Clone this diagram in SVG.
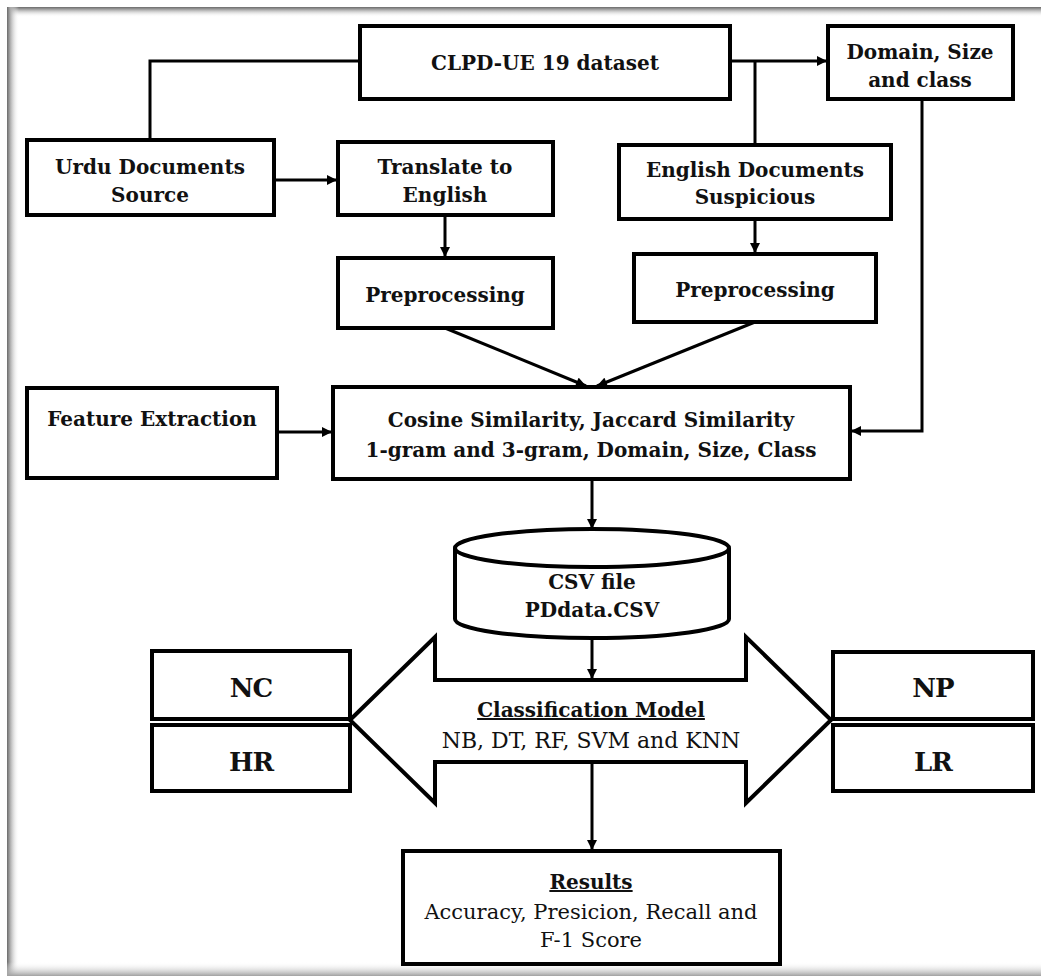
<svg xmlns="http://www.w3.org/2000/svg" width="1041" height="976" viewBox="0 0 1041 976">
<defs>
<style>
.box{fill:#fff;stroke:#000;stroke-width:4}
.ln{fill:none;stroke:#000;stroke-width:3}
.t{font-family:"DejaVu Serif","Liberation Serif",serif;font-weight:bold;font-size:20px;text-anchor:middle;fill:#111}
.r{font-family:"DejaVu Serif","Liberation Serif",serif;font-weight:normal;font-size:21px;text-anchor:middle;fill:#111}
.big{font-family:"DejaVu Serif","Liberation Serif",serif;font-weight:bold;font-size:26px;text-anchor:middle;fill:#111;letter-spacing:-1px}
</style>
<marker id="ah" viewBox="0 0 10 10" refX="10" refY="5" markerWidth="11" markerHeight="10" markerUnits="userSpaceOnUse" orient="auto">
<path d="M0,0 L10,5 L0,10 Z" fill="#000"/>
</marker>
<linearGradient id="gl" x1="0" y1="0" x2="1" y2="0">
<stop offset="0" stop-color="#6a6a6a"/><stop offset="0.25" stop-color="#a8a8a8"/><stop offset="1" stop-color="#fff" stop-opacity="0"/>
</linearGradient>
<linearGradient id="gt" x1="0" y1="0" x2="0" y2="1">
<stop offset="0" stop-color="#6a6a6a"/><stop offset="0.3" stop-color="#b0b0b0"/><stop offset="1" stop-color="#fff" stop-opacity="0"/>
</linearGradient>
<linearGradient id="gb" x1="0" y1="0" x2="0" y2="1">
<stop offset="0" stop-color="#fff" stop-opacity="0"/><stop offset="1" stop-color="#a0a0a0"/>
</linearGradient>
</defs>
<rect x="0" y="0" width="1041" height="976" fill="#fff"/>
<g id="frame">
<rect x="7" y="7" width="1034" height="10" fill="url(#gt)"/>
<rect x="7" y="7" width="12" height="969" fill="url(#gl)"/>
<rect x="7" y="962" width="1034" height="14" fill="url(#gb)"/>
</g>
<g id="connectors">
<polyline class="ln" points="360,61 150,61 150,140"/>
<line class="ln" x1="274" y1="180" x2="337" y2="180" marker-end="url(#ah)"/>
<line class="ln" x1="730" y1="61" x2="827" y2="61" marker-end="url(#ah)"/>
<line class="ln" x1="755" y1="61" x2="755" y2="145"/>
<line class="ln" x1="445" y1="215" x2="445" y2="257" marker-end="url(#ah)"/>
<line class="ln" x1="755" y1="219" x2="755" y2="253" marker-end="url(#ah)"/>
<polyline class="ln" points="922,99 922,431 851,431" marker-end="url(#ah)"/>
<line class="ln" x1="445" y1="328" x2="586" y2="386" marker-end="url(#ah)"/>
<line class="ln" x1="755" y1="322" x2="597" y2="386" marker-end="url(#ah)"/>
<line class="ln" x1="277" y1="432" x2="332" y2="432" marker-end="url(#ah)"/>
<line class="ln" x1="592" y1="479" x2="592" y2="529" marker-end="url(#ah)"/>
<line class="ln" x1="592" y1="638" x2="592" y2="679" marker-end="url(#ah)"/>
<line class="ln" x1="592" y1="762" x2="592" y2="850" marker-end="url(#ah)"/>
</g>
<g id="clpd">
<rect class="box" x="360" y="26" width="370" height="73"/>
<text class="t" x="545" y="70">CLPD-UE 19 dataset</text>
</g>
<g id="domain">
<rect class="box" x="828" y="26" width="185" height="73"/>
<text class="t" x="920" y="59">Domain, Size</text>
<text class="t" x="920" y="87">and class</text>
</g>
<g id="urdu">
<rect class="box" x="27" y="140" width="247" height="75"/>
<text class="t" x="150" y="174">Urdu Documents</text>
<text class="t" x="150" y="202">Source</text>
</g>
<g id="translate">
<rect class="box" x="338" y="142" width="215" height="73"/>
<text class="t" x="445" y="174">Translate to</text>
<text class="t" x="445" y="202">English</text>
</g>
<g id="english">
<rect class="box" x="619" y="145" width="272" height="74"/>
<text class="t" x="755" y="177">English Documents</text>
<text class="t" x="755" y="204">Suspicious</text>
</g>
<g id="prep1">
<rect class="box" x="338" y="258" width="215" height="70"/>
<text class="t" x="445" y="302">Preprocessing</text>
</g>
<g id="prep2">
<rect class="box" x="634" y="254" width="242" height="68"/>
<text class="t" x="755" y="297">Preprocessing</text>
</g>
<g id="feature">
<rect class="box" x="27" y="388" width="250" height="90"/>
<text class="t" x="152" y="426">Feature Extraction</text>
</g>
<g id="cosine">
<rect class="box" x="333" y="387" width="517" height="92"/>
<text class="t" x="591" y="427">Cosine Similarity, Jaccard Similarity</text>
<text class="t" x="591" y="457">1-gram and 3-gram, Domain, Size, Class</text>
</g>
<g id="csv">
<path d="M455,548 L455,619 A137,19 0 0 0 729,619 L729,548" fill="#fff" stroke="#000" stroke-width="4"/>
<ellipse cx="592" cy="548" rx="137" ry="19" fill="#fff" stroke="#000" stroke-width="4"/>
<text class="t" x="592" y="589">CSV file</text>
<text class="t" x="592" y="617">PDdata.CSV</text>
</g>
<g id="model">
<polygon points="350,720 435,637 435,680 746,680 746,637 831,720 746,803 746,762 435,762 435,803" fill="#fff" stroke="#000" stroke-width="4" stroke-linejoin="miter"/>
<text class="t" x="591" y="717" text-decoration="underline">Classification Model</text>
<text class="r" x="591" y="748" style="font-size:22px">NB, DT, RF, SVM and KNN</text>
</g>
<g id="nc">
<rect class="box" x="152" y="651" width="198" height="68"/>
<text class="big" x="251" y="697">NC</text>
</g>
<g id="hr">
<rect class="box" x="152" y="725" width="198" height="66"/>
<text class="big" x="251" y="771">HR</text>
</g>
<g id="np">
<rect class="box" x="833" y="652" width="200" height="67"/>
<text class="big" x="933" y="697">NP</text>
</g>
<g id="lr">
<rect class="box" x="833" y="725" width="200" height="66"/>
<text class="big" x="933" y="771">LR</text>
</g>
<g id="results">
<rect class="box" x="403" y="851" width="377" height="113"/>
<text class="t" x="591" y="889" text-decoration="underline">Results</text>
<text class="r" x="591" y="919">Accuracy, Presicion, Recall and</text>
<text class="r" x="591" y="947">F-1 Score</text>
</g>
</svg>
